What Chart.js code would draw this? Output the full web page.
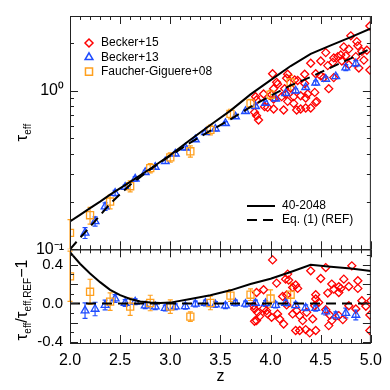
<!DOCTYPE html>
<html>
<head>
<meta charset="utf-8">
<script src="https://cdn.jsdelivr.net/npm/chart.js@4"></script>
<style>
  body { margin: 0; background: #fff; }
  #wrap { width: 390px; height: 390px; }
</style>
</head>
<body>
<div id="wrap"><canvas id="tauChart" width="390" height="390"></canvas></div>
<script>

/*---- data ----*/

// model curves
var zLine   = [2.0, 2.1, 2.2, 2.3, 2.4, 2.6, 2.8, 3.0, 3.2, 3.4, 3.6, 3.8, 4.0, 4.2, 4.4, 4.6, 4.8, 5.0];
var tauSim  = [0.150, 0.165, 0.182, 0.200, 0.221, 0.266, 0.322, 0.393, 0.491, 0.608, 0.749, 0.948, 1.167, 1.431, 1.708, 1.932, 2.176, 2.47];
var tauRef  = [0.100, 0.118, 0.139, 0.164, 0.194, 0.255, 0.319, 0.390, 0.470, 0.560, 0.660, 0.790, 0.930, 1.080, 1.220, 1.400, 1.600, 1.85];

var zRatio   = [2.0, 2.1, 2.2, 2.3, 2.4, 2.5, 2.6, 2.7, 2.8, 2.9, 3.0, 3.2, 3.4, 3.6, 3.8, 4.0, 4.2, 4.4, 4.6, 4.8, 5.0];
var ratioSim = [0.53, 0.41, 0.31, 0.22, 0.14, 0.085, 0.045, 0.02, 0.008, 0.004, 0.008, 0.045, 0.085, 0.135, 0.20, 0.255, 0.325, 0.40, 0.38, 0.36, 0.335];
var zEnds    = [2.0, 5.0];
var ratioRef = [0, 0];

// Becker+15 (single sightlines)
var b15z   = [4.99, 4.80, 4.86, 4.87, 4.78, 4.96, 4.91, 4.55, 4.70, 4.75, 4.67, 4.63, 4.62, 4.71, 4.85, 4.40, 4.50, 4.57, 4.99, 4.02,
              4.17, 4.45, 4.50, 4.16, 4.24, 4.27, 4.34, 4.07, 4.53, 4.63, 4.58, 4.44, 4.03, 4.14, 4.20, 3.93, 4.01, 4.15, 4.23, 4.30,
              4.03, 4.17, 4.46, 3.86, 3.94, 3.97, 4.03, 4.13, 4.26, 4.30, 4.35, 4.40, 4.23, 3.86, 3.88, 4.45, 3.85, 4.73, 4.78, 4.88,
              4.93, 4.11, 4.06, 4.37, 4.35, 4.34, 3.84];
var b15tau = [2.56, 2.22, 2.04, 1.92, 1.83, 1.80, 1.77, 1.74, 1.68, 1.66, 1.64, 1.61, 1.51, 1.54, 1.64, 1.49, 1.54, 1.44, 1.35, 1.28,
              1.27, 1.28, 1.24, 1.20, 1.17, 1.16, 1.11, 1.10, 1.21, 1.21, 1.03, 0.976, 1.03, 1.03, 1.04, 0.953, 0.944, 0.953, 0.917, 0.930,
              0.887, 0.857, 0.857, 0.874, 0.793, 0.785, 0.767, 0.756, 0.756, 0.767, 0.778, 0.778, 0.832, 0.696, 0.654, 0.844, 0.917, 1.89, 1.46, 1.39,
              1.56, 0.917, 1.13, 0.953, 0.90, 1.27, 0.731];
var b15zR  = [4.02, 4.40, 4.55, 4.81, 4.17, 4.15, 4.18, 4.06, 4.50, 4.73, 4.87, 4.22, 4.27, 4.25, 4.61, 4.68, 4.70, 4.78, 4.87, 4.63,
              3.93, 3.86, 4.12, 4.16, 4.45, 4.57, 4.68, 4.91, 5.00, 4.45, 4.48, 3.83, 3.84, 3.93, 3.96, 3.97, 3.86, 4.01, 4.13, 4.22,
              4.26, 4.29, 4.32, 4.36, 4.42, 4.44, 4.55, 4.59, 4.61, 4.68, 4.72, 4.58, 4.25, 4.29, 4.35, 4.39, 4.45, 4.78, 4.85, 4.95,
              4.99, 4.99, 4.07, 4.09, 4.16, 3.87, 3.89, 3.84];
var b15ratio = [0.45, 0.337, 0.371, 0.389, 0.303, 0.251, 0.241, 0.21, 0.258, 0.251, 0.234, 0.165, 0.155, 0.19, 0.20, 0.172, 0.155, 0.175, 0.155, 0.148,
              0.141, 0.113, 0.072, 0.087, 0.09, 0.107, 0.113, 0.028, 0.028, 0.045, 0.01, -0.024, -0.058, -0.052, -0.075, -0.109, -0.178, -0.144, -0.213, -0.109,
              -0.075, -0.127, -0.178, -0.093, -0.161, -0.024, -0.065, -0.12, -0.178, -0.127, -0.168, -0.23, -0.281, -0.281, -0.271, -0.305, -0.281, -0.024, -0.058, -0.03,
              -0.12, -0.281, -0.109, -0.161, -0.016, -0.093, -0.134, -0.185];

// Becker+13 (composite)
var b13z        = [2.15, 2.25, 2.35, 2.45, 2.55, 2.65, 2.75, 2.85, 2.95, 3.05, 3.15, 3.25, 3.35, 3.45, 3.55, 3.65, 3.75, 3.85, 3.95, 4.05, 4.15, 4.25, 4.35, 4.45, 4.55, 4.65, 4.75, 4.85];
var b13tau      = [0.127, 0.150, 0.186, 0.226, 0.247, 0.278, 0.306, 0.330, 0.358, 0.400, 0.436, 0.492, 0.547, 0.574, 0.622, 0.686, 0.741, 0.797, 0.837, 0.890, 0.962, 1.00, 1.05, 1.12, 1.185, 1.23, 1.40, 1.485];
var b13tauErr   = [0.010, 0.010, 0.010, 0.009, 0.008, 0.009, 0.009, 0.010, 0.010, 0.011, 0.012, 0.013, 0.014, 0.015, 0.016, 0.018, 0.019, 0.021, 0.022, 0.024, 0.027, 0.029, 0.031, 0.034, 0.037, 0.040, 0.060, 0.065];
var b13ratio    = [-0.075, -0.058, -0.017, 0.05, 0.004, 0.017, -0.024, -0.034, -0.048, -0.034, -0.03, -0.006, 0.004, -0.012, -0.024, 0.004, -0.006, 0.004, 0.0, -0.017, 0.004, -0.02, -0.045, -0.05, -0.085, -0.127, -0.10, -0.12];
var b13ratioErr = [0.08, 0.07, 0.05, 0.04, 0.035, 0.03, 0.03, 0.03, 0.03, 0.03, 0.03, 0.03, 0.03, 0.03, 0.03, 0.03, 0.03, 0.03, 0.03, 0.03, 0.03, 0.03, 0.03, 0.03, 0.035, 0.04, 0.05, 0.05];

// Faucher-Giguere+08
var fgZ        = [2.0, 2.2, 2.4, 2.6, 2.8, 3.0, 3.2, 3.4, 3.6, 3.8, 4.0, 4.2];
var fgTau      = [0.127, 0.164, 0.200, 0.250, 0.325, 0.380, 0.415, 0.566, 0.714, 0.832, 0.944, 1.13];
var fgTauErr   = [0.027, 0.020, 0.020, 0.020, 0.022, 0.025, 0.034, 0.04, 0.05, 0.05, 0.06, 0.12];
var fgRatio    = [0.28, 0.12, 0.018, -0.034, 0.004, -0.034, -0.137, 0.004, 0.08, 0.09, 0.05, 0.09];
var fgRatioErr = [0.26, 0.13, 0.09, 0.09, 0.08, 0.07, 0.05, 0.07, 0.06, 0.06, 0.09, 0.12];

// ticks
var zTicks     = [2.0, 2.5, 3.0, 3.5, 4.0, 4.5, 5.0];
var tauTicks   = [0.1, 1];
var ratioTicks = [-0.4, -0.2, 0.0, 0.2, 0.4];

/*---- helpers ----*/

var RED = '#ff0000', BLUE = '#1f4cff', ORANGE = '#ffa01e';
var FONT = "'Liberation Sans', Arial, sans-serif";

function pts(xs, ys) {
	return xs.map(function (x, i) { return { x: x, y: ys[i] }; });
}

function line(ctx, x1, y1, x2, y2) {
	ctx.beginPath();
	ctx.moveTo(x1, y1);
	ctx.lineTo(x2, y2);
	ctx.stroke();
}

// rotated label with subscripts: parts = [text, size, shift]
function sideLabel(ctx, parts, cx, cy) {
	ctx.save();
	ctx.translate(cx, cy);
	ctx.rotate(-Math.PI / 2);
	ctx.fillStyle = '#000';
	ctx.textBaseline = 'alphabetic';
	var total = 0;
	parts.forEach(function (p) {
		ctx.font = p[1] + 'px ' + FONT;
		total += ctx.measureText(p[0]).width;
	});
	var x = -total / 2;
	parts.forEach(function (p) {
		ctx.font = p[1] + 'px ' + FONT;
		ctx.fillText(p[0], x, p[2]);
		x += ctx.measureText(p[0]).width;
	});
	ctx.restore();
}

/*---- error bars ----*/

var errorBars = {
	id: 'errorBars',
	beforeDatasetsDraw: function (chart) {
		var ctx = chart.ctx;
		chart.data.datasets.forEach(function (ds, i) {
			if (!ds.errs) return;
			var meta = chart.getDatasetMeta(i);
			var xs = meta.xScale, ys = meta.yScale;
			ctx.save();
			ctx.beginPath();
			ctx.rect(xs.left - 4, ys.top, xs.right - xs.left + 8, ys.bottom - ys.top);
			ctx.clip();
			ctx.strokeStyle = ds.borderColor;
			ctx.lineWidth = 1.2;
			ds.data.forEach(function (p, j) {
				var px = xs.getPixelForValue(p.x);
				var lo = ys.getPixelForValue(p.y - ds.errs[j]);
				var hi = ys.getPixelForValue(p.y + ds.errs[j]);
				line(ctx, px, lo, px, hi);
				line(ctx, px - 2.5, lo, px + 2.5, lo);
				line(ctx, px - 2.5, hi, px + 2.5, hi);
			});
			ctx.restore();
		});
	}
};

/*---- frames, inward ticks, titles, legends ----*/

var frame = {
	id: 'frame',
	afterDraw: function (chart) {
		var ctx = chart.ctx;
		var x = chart.scales.x, yTop = chart.scales.yTop, yBot = chart.scales.yBot;
		ctx.save();
		ctx.strokeStyle = '#222';
		ctx.lineWidth = 1;

		[yTop, yBot].forEach(function (y) {
			ctx.strokeRect(x.left + 0.5, y.top + 0.5, x.right - x.left - 1, y.bottom - y.top);
		});

		// x ticks, every 0.1
		for (var k = 0; k <= 30; k++) {
			var v = 2 + k / 10;
			var px = Math.round(x.getPixelForValue(v)) + 0.5;
			var len = (k % 5 === 0) ? 8 : 4;
			[yTop, yBot].forEach(function (y) {
				line(ctx, px, y.top, px, y.top + len);
				line(ctx, px, y.bottom, px, y.bottom - len);
			});
		}

		// log ticks on top panel
		[1, 2, 3, 4, 5, 6, 7, 8, 9, 10, 20].forEach(function (m) {
			var v = m / 10;
			var py = Math.round(yTop.getPixelForValue(v)) + 0.5;
			if (py < yTop.top || py > yTop.bottom + 1) return;
			var len = (m === 1 || m === 10) ? 8 : 4;
			line(ctx, x.left, py, x.left + len, py);
			line(ctx, x.right, py, x.right - len, py);
		});

		// linear ticks on bottom panel, every 0.1
		for (var n = -4; n <= 5; n++) {
			var py2 = Math.round(yBot.getPixelForValue(n / 10)) + 0.5;
			var len2 = (n % 2 === 0) ? 8 : 4;
			line(ctx, x.left, py2, x.left + len2, py2);
			line(ctx, x.right, py2, x.right - len2, py2);
		}

		// y titles
		sideLabel(ctx, [['τ', 17, 0], ['eff', 10, 4]], 27, (yTop.top + yTop.bottom) / 2);
		sideLabel(ctx, [['τ', 17, 0], ['eff', 10, 4], ['/', 16, 0], ['τ', 17, 0], ['eff,REF', 10, 4], ['−1', 16, 0]], 27, 300);

		// marker legend, top left (hollow markers)
		var items = [['Becker+15', 'rectRot', 4, RED], ['Becker+13', 'triangle', 4.5, BLUE], ['Faucher-Giguere+08', 'rect', 5, ORANGE]];
		ctx.font = '12px ' + FONT;
		ctx.textBaseline = 'middle';
		items.forEach(function (it, i) {
			var ly = 43 + i * 14.3;
			ctx.strokeStyle = it[3];
			ctx.fillStyle = 'rgba(0,0,0,0)';
			ctx.lineWidth = 1.5;
			Chart.helpers.drawPoint(ctx, { pointStyle: it[1], radius: it[2], borderWidth: 1.5, rotation: 0 }, 89, ly);
			ctx.fillStyle = '#000';
			ctx.fillText(it[0], 101, ly);
		});

		// line legend, bottom right
		ctx.strokeStyle = '#000';
		ctx.fillStyle = '#000';
		ctx.lineWidth = 2;
		line(ctx, 247, 206, 275, 206);
		ctx.setLineDash([10, 6]);
		line(ctx, 247, 220, 275, 220);
		ctx.setLineDash([]);
		ctx.fillText('40-2048', 282, 206);
		ctx.fillText('Eq. (1) (REF)', 282, 220);
		ctx.restore();
	}
};

/*---- chart ----*/

function fixWidth(s) { s.width = 70; }

var ctx = document.getElementById('tauChart').getContext('2d');
var tauChart = new Chart(ctx, {
	type: 'scatter',
	data: {
		datasets: [
			{ label: '40-2048', data: pts(zLine, tauSim), yAxisID: 'yTop', showLine: true, pointRadius: 0, borderColor: '#000', borderWidth: 2 },
			{ label: 'Eq. (1) (REF)', data: pts(zLine, tauRef), yAxisID: 'yTop', showLine: true, pointRadius: 0, borderColor: '#000', borderWidth: 2, borderDash: [10, 6] },
			{ label: '40-2048 ratio', data: pts(zRatio, ratioSim), yAxisID: 'yBot', showLine: true, pointRadius: 0, borderColor: '#000', borderWidth: 2 },
			{ label: 'REF ratio', data: pts(zEnds, ratioRef), yAxisID: 'yBot', showLine: true, pointRadius: 0, borderColor: '#000', borderWidth: 2, borderDash: [10, 6] },
			{ label: 'Faucher-Giguere+08', data: pts(fgZ, fgTau), errs: fgTauErr, yAxisID: 'yTop', pointStyle: 'rect', pointRadius: 5, borderColor: ORANGE, backgroundColor: 'rgba(0,0,0,0)', borderWidth: 1.3 },
			{ label: 'Faucher-Giguere+08 ratio', data: pts(fgZ, fgRatio), errs: fgRatioErr, yAxisID: 'yBot', pointStyle: 'rect', pointRadius: 5, borderColor: ORANGE, backgroundColor: 'rgba(0,0,0,0)', borderWidth: 1.3 },
			{ label: 'Becker+13', data: pts(b13z, b13tau), errs: b13tauErr, yAxisID: 'yTop', pointStyle: 'triangle', pointRadius: 4.5, borderColor: BLUE, backgroundColor: 'rgba(0,0,0,0)', borderWidth: 1.3 },
			{ label: 'Becker+13 ratio', data: pts(b13z, b13ratio), errs: b13ratioErr, yAxisID: 'yBot', pointStyle: 'triangle', pointRadius: 4.5, borderColor: BLUE, backgroundColor: 'rgba(0,0,0,0)', borderWidth: 1.3 },
			{ label: 'Becker+15', data: pts(b15z, b15tau), yAxisID: 'yTop', pointStyle: 'rectRot', pointRadius: 4, borderColor: RED, backgroundColor: 'rgba(0,0,0,0)', borderWidth: 1.3 },
			{ label: 'Becker+15 ratio', data: pts(b15zR, b15ratio), yAxisID: 'yBot', pointStyle: 'rectRot', pointRadius: 4, borderColor: RED, backgroundColor: 'rgba(0,0,0,0)', borderWidth: 1.3 }
		]
	},
	options: {
		responsive: false,
		animation: false,
		events: [],
		layout: { padding: { top: 15, right: 16, left: 0, bottom: 0 } },
		plugins: { legend: { display: false }, tooltip: { enabled: false } },
		scales: {
			x: {
				type: 'linear', min: 2, max: 5, position: 'bottom',
				grid: { display: false, drawTicks: false }, border: { display: false },
				afterBuildTicks: function (s) { s.ticks = zTicks.map(function (v) { return { value: v }; }); },
				afterFit: function (s) { s.height = 47; },
				ticks: { padding: 8, color: '#000', font: { family: FONT, size: 16 }, maxRotation: 0,
					callback: function (v) { return v.toFixed(1); } },
				title: { display: true, text: 'z', color: '#000', font: { family: FONT, size: 16 }, padding: { top: 0, bottom: 4 } }
			},
			yTop: {
				type: 'logarithmic', min: 0.1, max: 2.96, position: 'left', stack: 'panels', stackWeight: 234, weight: 2,
				grid: { display: false, drawTicks: false }, border: { display: false },
				afterBuildTicks: function (s) { s.ticks = tauTicks.map(function (v) { return { value: v }; }); },
				afterFit: fixWidth,
				ticks: { padding: 6, color: '#000', font: { family: FONT, size: 16 },
					callback: function (v) { return v === 1 ? '10⁰' : '10⁻¹'; } }
			},
			yBot: {
				type: 'linear', min: -0.41, max: 0.56, position: 'left', stack: 'panels', stackWeight: 94, weight: 1,
				grid: { display: false, drawTicks: false }, border: { display: false },
				afterBuildTicks: function (s) { s.ticks = ratioTicks.map(function (v) { return { value: v }; }); },
				afterFit: fixWidth,
				ticks: { padding: 7, color: '#000', font: { family: FONT, size: 15 },
					callback: function (v) { return v.toFixed(1); } }
			}
		}
	},
	plugins: [errorBars, frame]
});

</script>
</body>
</html>
